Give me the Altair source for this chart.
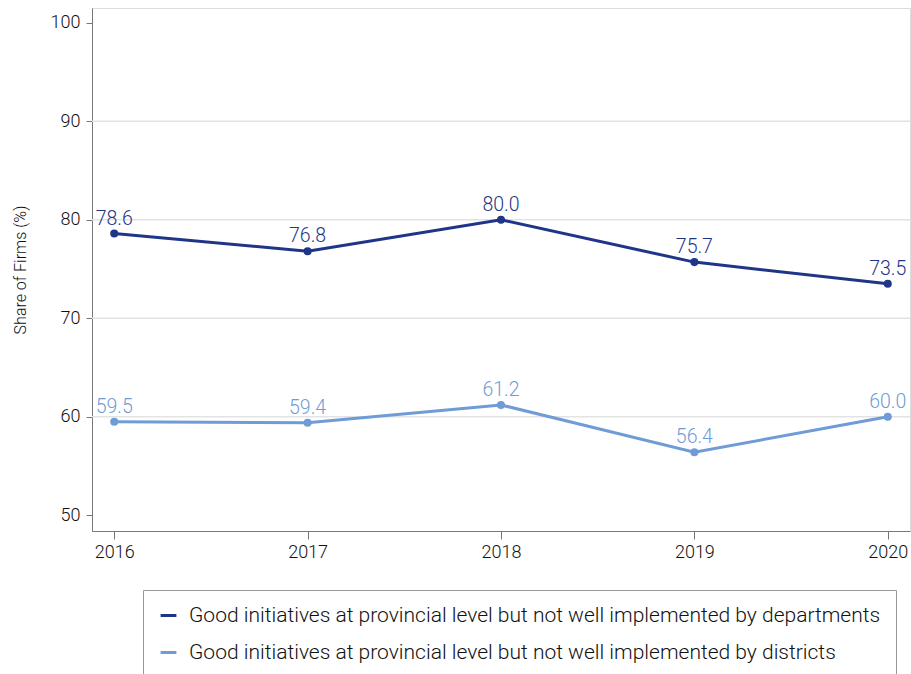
import altair as alt
import pandas as pd

years = [2016, 2017, 2018, 2019, 2020]
departments = [78.6, 76.8, 80.0, 75.7, 73.5]
districts = [59.5, 59.4, 61.2, 56.4, 60.0]
series_names = [
    "Good initiatives at provincial level but not well implemented by departments",
    "Good initiatives at provincial level but not well implemented by districts",
]
colors = ["#1f3587", "#6f9bd6"]
grid_values = [60, 70, 80, 90]

rows = []
for name, vals in zip(series_names, [departments, districts]):
    for y, v in zip(years, vals):
        rows.append({"year": y, "value": v, "series": name, "label": f"{v:.1f}"})
df = pd.DataFrame(rows)

FONT = "Roboto, sans-serif"
W = 300

xscale = alt.Scale(domain=[2015.885, 2020.115], nice=False, zero=False)
yscale = alt.Scale(domain=[48.4, 101.5], nice=False, zero=False)
color = alt.Color(
    "series:N",
    scale=alt.Scale(domain=series_names, range=colors),
    legend=alt.Legend(
        title=None,
        orient="none",
        legendX=51,
        legendY=582,
        direction="vertical",
        symbolType="stroke",
        symbolStrokeWidth=3,
        symbolSize=250,
        labelFont=FONT,
        labelFontWeight=W,
        labelFontSize=21,
        labelColor="#111111",
        labelLimit=900,
        labelOffset=10,
        strokeColor="#999999",
        padding=15,
        rowPadding=15,
        fillColor="white",
    ),
)

x = alt.X(
    "year:Q",
    scale=xscale,
    axis=alt.Axis(
        values=years,
        format="d",
        title=None,
        grid=False,
        labelFont=FONT,
        labelFontWeight=W,
        labelFontSize=18,
        labelColor="#111111",
        domainColor="#777777",
        tickColor="#777777",
        tickSize=8,
        labelPadding=4,
    ),
)
y = alt.Y(
    "value:Q",
    scale=yscale,
    axis=alt.Axis(
        values=[50, 60, 70, 80, 90, 100],
        title="Share of Firms (%)",
        titleFont=FONT,
        titleFontSize=16,
        titleFontWeight=W,
        titleColor="#111111",
        titlePadding=22,
        grid=False,
        labelFont=FONT,
        labelFontWeight=W,
        labelFontSize=18,
        labelColor="#111111",
        domainColor="#777777",
        tickColor="#777777",
        tickSize=6,
        labelPadding=6,
    ),
)

grid = alt.Chart(pd.DataFrame({"g": grid_values})).mark_rule(
    color="#e3e3e3", strokeWidth=1.5
).encode(y=alt.Y("g:Q", scale=yscale))

base = alt.Chart(df)
lines = base.mark_line(strokeWidth=3).encode(x=x, y=y, color=color)
points = base.mark_point(filled=True, size=65, opacity=1).encode(
    x=alt.X("year:Q", scale=xscale),
    y=alt.Y("value:Q", scale=yscale),
    color=alt.Color("series:N", scale=alt.Scale(domain=series_names, range=colors), legend=None),
)
labels = base.mark_text(
    baseline="bottom", dy=-5, font=FONT, fontSize=19.5, fontWeight=W
).encode(
    x=alt.X("year:Q", scale=xscale),
    y=alt.Y("value:Q", scale=yscale),
    text="label:N",
    color=alt.Color("series:N", scale=alt.Scale(domain=series_names, range=colors), legend=None),
)

chart = (
    alt.layer(grid, lines, points, labels)
    .properties(
        width=818,
        height=523,
        autosize=alt.AutoSizeParams(type="none"),
        padding={"left": 92, "top": 8, "right": 1, "bottom": 143},
    )
    .configure_view(stroke=None)
    .configure(background="white")
)

chart.save("out.html", embed_options={"renderer": "svg", "actions": False})
